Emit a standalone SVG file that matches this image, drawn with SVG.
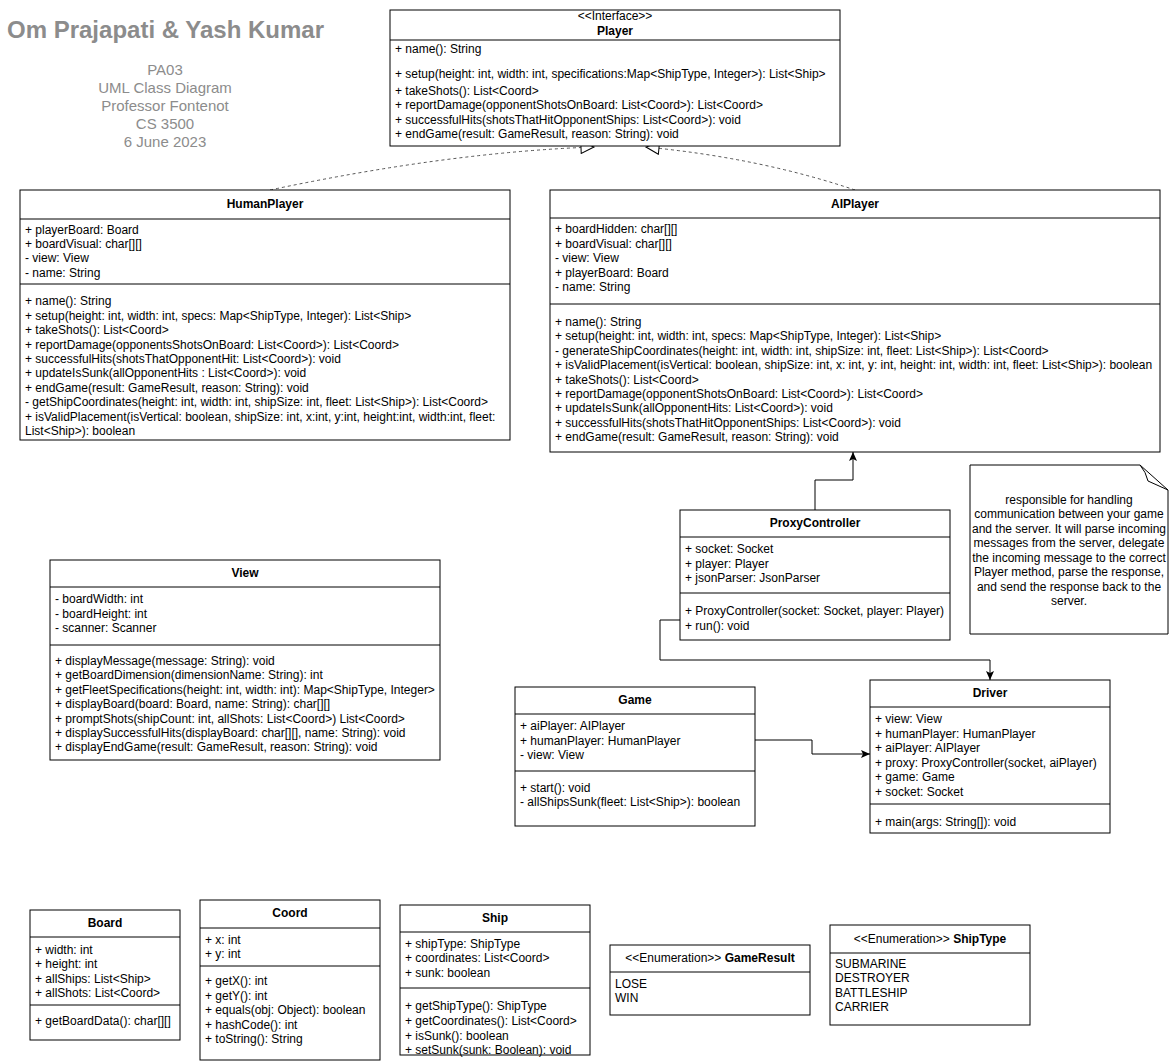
<svg xmlns="http://www.w3.org/2000/svg" width="1171" height="1063" viewBox="0 0 1171 1063">
  <style>
    .box { fill: #ffffff; stroke: #000000; stroke-width: 1; }
    .sep { stroke: #000000; stroke-width: 1; }
    text { font-family: "Liberation Sans", Arial, sans-serif; font-size: 12px; fill: #000000; }
    .b { font-weight: bold; }
    .c { text-anchor: middle; }
    .head { font-size: 24px; font-weight: bold; fill: #8c8c8c; }
    .sub { font-size: 15px; fill: #8c8c8c; text-anchor: middle; }
    .dash { fill: none; stroke: #555555; stroke-width: 1; stroke-dasharray: 3 3; }
    .line { fill: none; stroke: #000000; stroke-width: 1; }
  </style>
  <defs>
    <marker id="realize" markerUnits="userSpaceOnUse" markerWidth="16" markerHeight="14" refX="14" refY="7" orient="auto">
      <path d="M1,1 L14,7 L1,13 Z" fill="#ffffff" stroke="#000000" stroke-width="1"/>
    </marker>
    <marker id="assoc" markerUnits="userSpaceOnUse" markerWidth="10" markerHeight="8" refX="9" refY="4" orient="auto">
      <path d="M0,0 L9,4 L0,8 L2,4 Z" fill="#000000"/>
    </marker>
  </defs>

  <rect width="1171" height="1063" fill="#ffffff"/>

  <!-- title block -->
  <g id="title">
    <text class="head" x="7" y="38">Om Prajapati &amp; Yash Kumar</text>
    <text class="sub" x="165" y="75">PA03</text>
    <text class="sub" x="165" y="93">UML Class Diagram</text>
    <text class="sub" x="165" y="111">Professor Fontenot</text>
    <text class="sub" x="165" y="129">CS 3500</text>
    <text class="sub" x="165" y="147">6 June 2023</text>
  </g>

  <!-- connectors -->
  <g id="connectors">
    <path class="dash" d="M270,190 Q450,152 594,147" marker-end="url(#realize)"/>
    <path class="dash" d="M855,190 Q760,158 646,147" marker-end="url(#realize)"/>
    <path class="line" d="M815,510 L815,480 L853,480 L853,452" marker-end="url(#assoc)"/>
    <path class="line" d="M680,620 L660,620 L660,660 L990,660 L990,680" marker-end="url(#assoc)"/>
    <path class="line" d="M755,740 L812,740 L812,754 L870,754" marker-end="url(#assoc)"/>
  </g>

  <!-- Player interface -->
  <g id="Player">
    <rect class="box" x="390" y="10" width="450" height="136"/>
    <text class="c" x="615" y="20">&lt;&lt;Interface&gt;&gt;</text>
    <text class="b c" x="615" y="35">Player</text>
    <line class="sep" x1="390" y1="40" x2="840" y2="40"/>
    <text x="395" y="53">+ name(): String</text>
    <text x="395" y="78">+ setup(height: int, width: int, specifications:Map&lt;ShipType, Integer&gt;): List&lt;Ship&gt;</text>
    <text x="395" y="95">+ takeShots(): List&lt;Coord&gt;</text>
    <text x="395" y="109">+ reportDamage(opponentShotsOnBoard: List&lt;Coord&gt;): List&lt;Coord&gt;</text>
    <text x="395" y="124">+ successfulHits(shotsThatHitOpponentShips: List&lt;Coord&gt;): void</text>
    <text x="395" y="138">+ endGame(result: GameResult, reason: String): void</text>
  </g>

  <!-- HumanPlayer -->
  <g id="HumanPlayer">
    <rect class="box" x="20" y="190" width="490" height="250"/>
    <text class="b c" x="265" y="208">HumanPlayer</text>
    <line class="sep" x1="20" y1="219" x2="510" y2="219"/>
    <text x="25" y="234">+ playerBoard: Board</text>
    <text x="25" y="248">+ boardVisual: char[][]</text>
    <text x="25" y="262">- view: View</text>
    <text x="25" y="277">- name: String</text>
    <line class="sep" x1="20" y1="284" x2="510" y2="284"/>
    <text x="25" y="305">+ name(): String</text>
    <text x="25" y="320">+ setup(height: int, width: int, specs: Map&lt;ShipType, Integer): List&lt;Ship&gt;</text>
    <text x="25" y="334">+ takeShots(): List&lt;Coord&gt;</text>
    <text x="25" y="349">+ reportDamage(opponentsShotsOnBoard: List&lt;Coord&gt;): List&lt;Coord&gt;</text>
    <text x="25" y="363">+ successfulHits(shotsThatOpponentHit: List&lt;Coord&gt;): void</text>
    <text x="25" y="377">+ updateIsSunk(allOpponentHits : List&lt;Coord&gt;): void</text>
    <text x="25" y="392">+ endGame(result: GameResult, reason: String): void</text>
    <text x="25" y="406">- getShipCoordinates(height: int, width: int, shipSize: int, fleet: List&lt;Ship&gt;): List&lt;Coord&gt;</text>
    <text x="25" y="421">+ isValidPlacement(isVertical: boolean, shipSize: int, x:int, y:int, height:int, width:int, fleet:</text>
    <text x="25" y="435">List&lt;Ship&gt;): boolean</text>
  </g>

  <!-- AIPlayer -->
  <g id="AIPlayer">
    <rect class="box" x="550" y="190" width="610" height="262"/>
    <text class="b c" x="855" y="208">AIPlayer</text>
    <line class="sep" x1="550" y1="218" x2="1160" y2="218"/>
    <text x="555" y="233">+ boardHidden: char[][]</text>
    <text x="555" y="248">+ boardVisual: char[][]</text>
    <text x="555" y="262">- view: View</text>
    <text x="555" y="277">+ playerBoard: Board</text>
    <text x="555" y="291">- name: String</text>
    <line class="sep" x1="550" y1="304" x2="1160" y2="304"/>
    <text x="555" y="326">+ name(): String</text>
    <text x="555" y="340">+ setup(height: int, width: int, specs: Map&lt;ShipType, Integer): List&lt;Ship&gt;</text>
    <text x="555" y="355">- generateShipCoordinates(height: int, width: int, shipSize: int, fleet: List&lt;Ship&gt;): List&lt;Coord&gt;</text>
    <text x="555" y="369">+ isValidPlacement(isVertical: boolean, shipSize: int, x: int, y: int, height: int, width: int, fleet: List&lt;Ship&gt;): boolean</text>
    <text x="555" y="384">+ takeShots(): List&lt;Coord&gt;</text>
    <text x="555" y="398">+ reportDamage(opponentShotsOnBoard: List&lt;Coord&gt;): List&lt;Coord&gt;</text>
    <text x="555" y="412">+ updateIsSunk(allOpponentHits: List&lt;Coord&gt;): void</text>
    <text x="555" y="427">+ successfulHits(shotsThatHitOpponentShips: List&lt;Coord&gt;): void</text>
    <text x="555" y="441">+ endGame(result: GameResult, reason: String): void</text>
  </g>

  <!-- ProxyController -->
  <g id="ProxyController">
    <rect class="box" x="680" y="510" width="270" height="130"/>
    <text class="b c" x="815" y="527">ProxyController</text>
    <line class="sep" x1="680" y1="537" x2="950" y2="537"/>
    <text x="685" y="553">+ socket: Socket</text>
    <text x="685" y="568">+ player: Player</text>
    <text x="685" y="582">+ jsonParser: JsonParser</text>
    <line class="sep" x1="680" y1="593" x2="950" y2="593"/>
    <text x="685" y="615">+ ProxyController(socket: Socket, player: Player)</text>
    <text x="685" y="630">+ run(): void</text>
  </g>

  <!-- note -->
  <g id="note">
    <path class="box" d="M970,465 L1140,465 L1168,490 L1168,634 L970,634 Z"/>
    <path class="line" d="M1140,465 Q1146,472 1148,481 L1168,490"/>
    <text class="c" x="1069" y="504">responsible for handling</text>
    <text class="c" x="1069" y="518">communication between your game</text>
    <text class="c" x="1069" y="533">and the server. It will parse incoming</text>
    <text class="c" x="1069" y="547">messages from the server, delegate</text>
    <text class="c" x="1069" y="562">the incoming message to the correct</text>
    <text class="c" x="1069" y="576">Player method, parse the response,</text>
    <text class="c" x="1069" y="591">and send the response back to the</text>
    <text class="c" x="1069" y="605">server.</text>
  </g>

  <!-- View -->
  <g id="View">
    <rect class="box" x="50" y="560" width="390" height="200"/>
    <text class="b c" x="245" y="577">View</text>
    <line class="sep" x1="50" y1="587" x2="440" y2="587"/>
    <text x="55" y="603">- boardWidth: int</text>
    <text x="55" y="618">- boardHeight: int</text>
    <text x="55" y="632">- scanner: Scanner</text>
    <line class="sep" x1="50" y1="645" x2="440" y2="645"/>
    <text x="55" y="665">+ displayMessage(message: String): void</text>
    <text x="55" y="679">+ getBoardDimension(dimensionName: String): int</text>
    <text x="55" y="694">+ getFleetSpecifications(height: int, width: int): Map&lt;ShipType, Integer&gt;</text>
    <text x="55" y="708">+ displayBoard(board: Board, name: String): char[][]</text>
    <text x="55" y="723">+ promptShots(shipCount: int, allShots: List&lt;Coord&gt;) List&lt;Coord&gt;</text>
    <text x="55" y="737">+ displaySuccessfulHits(displayBoard: char[][], name: String): void</text>
    <text x="55" y="751">+ displayEndGame(result: GameResult, reason: String): void</text>
  </g>

  <!-- Game -->
  <g id="Game">
    <rect class="box" x="515" y="687" width="240" height="139"/>
    <text class="b c" x="635" y="704">Game</text>
    <line class="sep" x1="515" y1="714" x2="755" y2="714"/>
    <text x="520" y="730">+ aiPlayer: AIPlayer</text>
    <text x="520" y="745">+ humanPlayer: HumanPlayer</text>
    <text x="520" y="759">- view: View</text>
    <line class="sep" x1="515" y1="771" x2="755" y2="771"/>
    <text x="520" y="792">+ start(): void</text>
    <text x="520" y="806">- allShipsSunk(fleet: List&lt;Ship&gt;): boolean</text>
  </g>

  <!-- Driver -->
  <g id="Driver">
    <rect class="box" x="870" y="680" width="240" height="153"/>
    <text class="b c" x="990" y="697">Driver</text>
    <line class="sep" x1="870" y1="707" x2="1110" y2="707"/>
    <text x="875" y="723">+ view: View</text>
    <text x="875" y="738">+ humanPlayer: HumanPlayer</text>
    <text x="875" y="752">+ aiPlayer: AIPlayer</text>
    <text x="875" y="767">+ proxy: ProxyController(socket, aiPlayer)</text>
    <text x="875" y="781">+ game: Game</text>
    <text x="875" y="796">+ socket: Socket</text>
    <line class="sep" x1="870" y1="804" x2="1110" y2="804"/>
    <text x="875" y="826">+ main(args: String[]): void</text>
  </g>

  <!-- Board -->
  <g id="Board">
    <rect class="box" x="30" y="910" width="150" height="130"/>
    <text class="b c" x="105" y="927">Board</text>
    <line class="sep" x1="30" y1="937" x2="180" y2="937"/>
    <text x="35" y="954">+ width: int</text>
    <text x="35" y="968">+ height: int</text>
    <text x="35" y="983">+ allShips: List&lt;Ship&gt;</text>
    <text x="35" y="997">+ allShots: List&lt;Coord&gt;</text>
    <line class="sep" x1="30" y1="1005" x2="180" y2="1005"/>
    <text x="35" y="1025">+ getBoardData(): char[][]</text>
  </g>

  <!-- Coord -->
  <g id="Coord">
    <rect class="box" x="200" y="900" width="180" height="160"/>
    <text class="b c" x="290" y="917">Coord</text>
    <line class="sep" x1="200" y1="928" x2="380" y2="928"/>
    <text x="205" y="944">+ x: int</text>
    <text x="205" y="958">+ y: int</text>
    <line class="sep" x1="200" y1="966" x2="380" y2="966"/>
    <text x="205" y="985">+ getX(): int</text>
    <text x="205" y="1000">+ getY(): int</text>
    <text x="205" y="1014">+ equals(obj: Object): boolean</text>
    <text x="205" y="1029">+ hashCode(): int</text>
    <text x="205" y="1043">+ toString(): String</text>
  </g>

  <!-- Ship -->
  <g id="Ship">
    <rect class="box" x="400" y="905" width="190" height="150"/>
    <text class="b c" x="495" y="922">Ship</text>
    <line class="sep" x1="400" y1="932" x2="590" y2="932"/>
    <text x="405" y="948">+ shipType: ShipType</text>
    <text x="405" y="962">+ coordinates: List&lt;Coord&gt;</text>
    <text x="405" y="977">+ sunk: boolean</text>
    <line class="sep" x1="400" y1="988" x2="590" y2="988"/>
    <text x="405" y="1010">+ getShipType(): ShipType</text>
    <text x="405" y="1025">+ getCoordinates(): List&lt;Coord&gt;</text>
    <text x="405" y="1040">+ isSunk(): boolean</text>
    <text x="405" y="1054">+ setSunk(sunk: Boolean): void</text>
  </g>

  <!-- GameResult enum -->
  <g id="GameResult">
    <rect class="box" x="610" y="945" width="200" height="70"/>
    <text class="c" x="710" y="962">&lt;&lt;Enumeration&gt;&gt; <tspan class="b">GameResult</tspan></text>
    <line class="sep" x1="610" y1="972" x2="810" y2="972"/>
    <text x="615" y="988">LOSE</text>
    <text x="615" y="1002">WIN</text>
  </g>

  <!-- ShipType enum -->
  <g id="ShipType">
    <rect class="box" x="830" y="925" width="200" height="100"/>
    <text class="c" x="930" y="943">&lt;&lt;Enumeration&gt;&gt; <tspan class="b">ShipType</tspan></text>
    <line class="sep" x1="830" y1="953" x2="1030" y2="953"/>
    <text x="835" y="968">SUBMARINE</text>
    <text x="835" y="982">DESTROYER</text>
    <text x="835" y="997">BATTLESHIP</text>
    <text x="835" y="1011">CARRIER</text>
  </g>
</svg>
